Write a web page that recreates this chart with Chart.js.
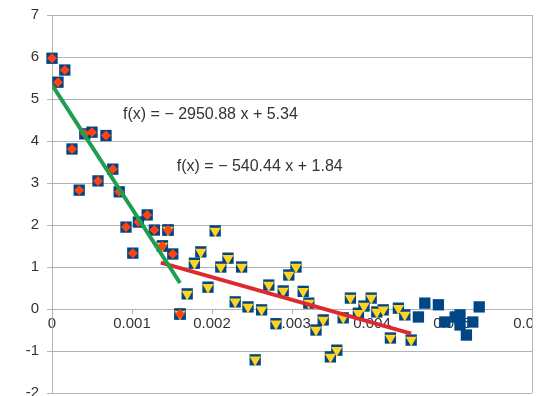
<!DOCTYPE html>
<html>
<head>
<meta charset="utf-8">
<script src="https://cdn.jsdelivr.net/npm/chart.js@4.4.1/dist/chart.umd.min.js"></script>
<style>
  html, body { margin: 0; padding: 0; background: #fff; }
  #wrap { width: 544px; height: 396px; }
</style>
</head>
<body>
<div id="wrap"><canvas id="myChart" width="544" height="396"></canvas></div>
<script>
// first group (orange diamonds)
const xA = [0.0000, 0.000075, 0.00016, 0.00025, 0.00034, 0.00041, 0.0005, 0.000575, 0.000675, 0.00076,
            0.00084, 0.000925, 0.00101, 0.00108, 0.00119, 0.00128, 0.00138, 0.00145, 0.00151, 0.0016];
const yA = [5.97, 5.40, 5.69, 3.81, 2.83, 4.17, 4.21, 3.05, 4.13, 3.33,
            2.79, 1.95, 1.33, 2.07, 2.24, 1.88, 1.50, 1.88, 1.31, -0.12];

// second group (yellow triangles)
const xB = [0.00138, 0.00145, 0.0016, 0.00169, 0.00178, 0.00186, 0.00195, 0.00204, 0.00211, 0.0022,
            0.00229, 0.00237, 0.00245, 0.00254, 0.00262, 0.00271, 0.0028, 0.00289, 0.00296, 0.00305,
            0.00314, 0.00321, 0.0033, 0.00339, 0.00348, 0.00356, 0.00364, 0.00373, 0.00383, 0.0039,
            0.00399, 0.00406, 0.00414, 0.00423, 0.00433, 0.00441, 0.00449];
const yB = [1.50, 1.88, -0.12, 0.36, 1.09, 1.36, 0.52, 1.86, 1.00, 1.21,
            0.17, 1.00, 0.05, -1.21, -0.02, 0.57, -0.35, 0.43, 0.81, 1.00,
            0.42, 0.14, -0.50, -0.26, -1.14, -0.98, -0.21, 0.26, -0.10, 0.07,
            0.26, -0.07, -0.02, -0.69, 0.02, -0.14, -0.74];

// remaining points (blue squares only)
const xC = [0.00458, 0.00466, 0.00483, 0.00491, 0.00504, 0.0051, 0.0051, 0.00518, 0.00526, 0.00534];
const yC = [-0.19, 0.14, 0.10, -0.31, -0.19, -0.14, -0.38, -0.62, -0.31, 0.05];

// trendlines
const trendSlope = [-2950.88, -540.44];
const trendIntercept = [5.34, 1.84];
const trendFrom = [0, 0.00136];
const trendTo = [0.0016, 0.00449];
const trendText = ['f(x) = \u2212 2950.88 x + 5.34', 'f(x) = \u2212 540.44 x + 1.84'];

const yTicks = [-2, 7];
const xTicks = [0, 0.006];

function pts(xs, ys) {
    return xs.map((x, i) => ({ x: x, y: ys[i] }));
}
function trend(i) {
    return [trendFrom[i], trendTo[i]].map(x => ({ x: x, y: trendSlope[i] * x + trendIntercept[i] }));
}

const gridColor = '#b3b3b3';
const textColor = '#333333';
const fontFamily = '"Liberation Sans", Arial, sans-serif';

// right border (labels cut at the plot edge) + equation texts
const extras = {
    id: 'extras',
    afterDraw(chart) {
        const ctx = chart.ctx;
        const a = chart.chartArea;
        const sx = chart.scales.x, sy = chart.scales.y;
        const r = Math.round(a.right);
        ctx.save();
        ctx.fillStyle = '#ffffff';
        ctx.fillRect(r + 1, 0, chart.width - r - 1, chart.height);
        ctx.strokeStyle = gridColor;
        ctx.lineWidth = 1;
        ctx.beginPath();
        ctx.moveTo(r + 0.5, a.top);
        ctx.lineTo(r + 0.5, a.bottom);
        ctx.stroke();
        ctx.fillStyle = textColor;
        ctx.font = '16px ' + fontFamily;
        ctx.textBaseline = 'middle';
        ctx.fillText(trendText[0], sx.getPixelForValue(0.000888), sy.getPixelForValue(4.62));
        ctx.fillText(trendText[1], sx.getPixelForValue(0.00156), sy.getPixelForValue(3.38));
        ctx.restore();
    }
};

function noPad(scale) {
    scale.paddingTop = 0;
    scale.paddingBottom = 0;
    scale.paddingLeft = 0;
    scale.paddingRight = 0;
}

const config = {
    type: 'scatter',
    data: {
        datasets: [
            {
                label: 'trend 1',
                type: 'line',
                data: trend(0),
                borderColor: '#1e9e4e',
                borderWidth: 4,
                pointRadius: 0,
                showLine: true,
                order: 0
            },
            {
                label: 'trend 2',
                type: 'line',
                data: trend(1),
                borderColor: '#dc2a30',
                borderWidth: 4,
                pointRadius: 0,
                showLine: true,
                order: 0
            },
            {
                label: 'A',
                data: pts(xA, yA),
                pointStyle: 'rectRot',
                pointRadius: 5,
                backgroundColor: '#ff420e',
                borderWidth: 0,
                clip: false,
                order: 1
            },
            {
                label: 'B',
                data: pts(xB, yB),
                pointStyle: 'triangle',
                rotation: 180,
                pointRadius: 6.5,
                backgroundColor: '#ffd320',
                borderWidth: 0,
                clip: false,
                order: 2
            },
            {
                label: 'all',
                data: pts(xA.concat(xB, xC), yA.concat(yB, yC)),
                pointStyle: 'rect',
                pointRadius: 8,
                backgroundColor: '#004586',
                borderWidth: 0,
                clip: false,
                order: 3
            }
        ]
    },
    options: {
        responsive: false,
        animation: false,
        events: [],
        layout: { autoPadding: false, padding: { left: 0, right: 12, top: 15, bottom: 3 } },
        plugins: { legend: { display: false }, tooltip: { enabled: false } },
        scales: {
            x: {
                type: 'linear',
                position: { y: 0 },
                min: xTicks[0],
                max: xTicks[1],
                ticks: {
                    stepSize: 0.001,
                    color: textColor,
                    font: { size: 15, family: fontFamily },
                    padding: 2,
                    maxRotation: 0,
                    callback: v => String(+v.toFixed(3))
                },
                grid: { drawOnChartArea: false, tickLength: 4, color: gridColor },
                border: { color: gridColor },
                afterFit: noPad
            },
            y: {
                type: 'linear',
                min: yTicks[0],
                max: yTicks[1],
                ticks: {
                    stepSize: 1,
                    color: textColor,
                    font: { size: 15, family: fontFamily },
                    padding: 8
                },
                grid: { color: gridColor, tickLength: 5 },
                border: { color: gridColor },
                afterFit(scale) {
                    scale.width = 52;
                    noPad(scale);
                }
            }
        }
    },
    plugins: [extras]
};

const myChart = new Chart(document.getElementById('myChart'), config);
</script>
</body>
</html>
